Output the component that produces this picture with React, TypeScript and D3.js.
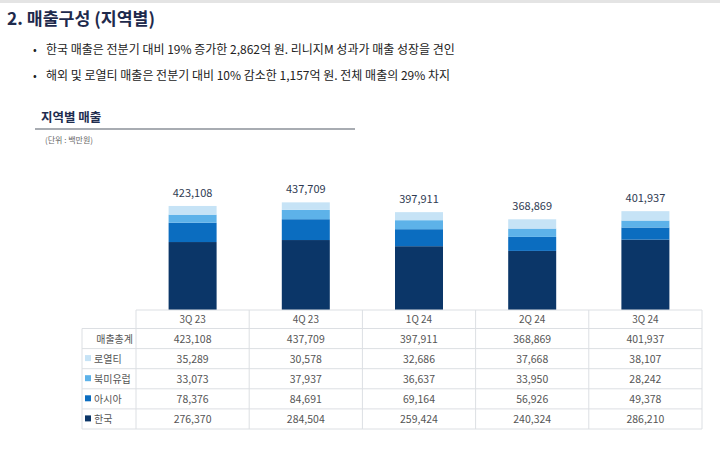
import React from "react";
import * as d3 from "d3";

const quarters = ["3Q 23", "4Q 23", "1Q 24", "2Q 24", "3Q 24"];
const totals = [423108, 437709, 397911, 368869, 401937];
const royalty = [35289, 30578, 32686, 37668, 38107];
const naEu = [33073, 37937, 36637, 33950, 28242];
const asia = [78376, 84691, 69164, 56926, 49378];
const korea = [276370, 284504, 259424, 240324, 286210];

const seriesKeys = ["korea", "asia", "naEu", "royalty"];
const seriesColors: Record<string, string> = { korea: "#0b3668", asia: "#0b6dc0", naEu: "#5db2e9", royalty: "#c6e3f6" };
const seriesValues: Record<string, number[]> = { korea, asia, naEu, royalty };

const titleText = "2. 매출구성 (지역별)";
const bullets = [
  "한국 매출은 전분기 대비 19% 증가한 2,862억 원. 리니지M 성과가 매출 성장을 견인",
  "해외 및 로열티 매출은 전분기 대비 10% 감소한 1,157억 원. 전체 매출의 29% 차지",
];

const FONT = "'Noto Sans CJK KR', 'Noto Sans', sans-serif";
const fmt = d3.format(",");

export default function App() {
  const W = 720, H = 450;
  const tableLeft = 136, tableRight = 702, labelLeft = 82;
  const baseY = 310;
  const x = d3.scaleBand<string>().domain(quarters).range([tableLeft, tableRight]).padding(0);
  const y = d3.scaleLinear().domain([0, 440000]).range([baseY, baseY - 108.2]);
  const barW = 48;

  const rows = quarters.map((q, i) => {
    const o: any = { q };
    seriesKeys.forEach((k) => (o[k] = seriesValues[k][i]));
    return o;
  });
  const stacked = d3.stack<any>().keys(seriesKeys)(rows);

  const headerTop = 310, headerBottom = 328.5;
  const rowH = 20.1;
  const tableRows = [
    { label: "매출총계", key: null as string | null, vals: totals },
    { label: "로열티", key: "royalty", vals: royalty },
    { label: "북미유럽", key: "naEu", vals: naEu },
    { label: "아시아", key: "asia", vals: asia },
    { label: "한국", key: "korea", vals: korea },
  ];
  const tableBottom = headerBottom + rowH * tableRows.length;
  const grid = "#dcdfe3";

  return (
    <svg width={W} height={H} style={{ display: "block", position: "absolute", left: 0, top: 0, background: "#fff" }} fontFamily={FONT}>
      <rect x={0} y={0} width={W} height={H} fill="#fff" />
      <rect x={0} y={0} width={W} height={3} fill="#e4e4e4" />
      <text x={7} y={25} fontSize={17.3} fontWeight={700} fill="#1e2a4c">{titleText}</text>
      {bullets.map((b, i) => (
        <g key={i}>
          <text x={33} y={54 + i * 26} fontSize={11} fill="#222">•</text>
          <text x={46} y={54 + i * 26} fontSize={12} fill="#222">{b}</text>
        </g>
      ))}
      <text x={41} y={122} fontSize={12.5} fontWeight={700} fill="#1f2d4f">지역별 매출</text>
      <line x1={35} x2={355} y1={129} y2={129} stroke="#8b9199" strokeWidth={1.5} />
      <text x={45} y={143} fontSize={8} fill="#666">(단위 : 백만원)</text>

      {stacked.map((s) => (
        <g key={s.key}>
          {s.map((d, i) => {
            const cx = (x(quarters[i]) as number) + x.bandwidth() / 2;
            return (
              <rect key={i} x={cx - barW / 2} y={y(d[1])} width={barW} height={y(d[0]) - y(d[1])} fill={seriesColors[s.key as string]} />
            );
          })}
        </g>
      ))}
      {quarters.map((q, i) => {
        const cx = (x(q) as number) + x.bandwidth() / 2;
        return (
          <text key={q} x={cx} y={y(totals[i]) - 9} textAnchor="middle" fontSize={11} fill="#2f3b52">{fmt(totals[i])}</text>
        );
      })}

      {/* table */}
      <g>
        <line x1={tableLeft} x2={tableRight} y1={headerTop} y2={headerTop} stroke={grid} />
        {tableRows.map((r, j) => (
          <line key={j} x1={labelLeft} x2={tableRight} y1={headerBottom + rowH * j} y2={headerBottom + rowH * j} stroke={grid} />
        ))}
        <line x1={labelLeft} x2={tableRight} y1={tableBottom} y2={tableBottom} stroke={grid} />
        <line x1={labelLeft} x2={labelLeft} y1={headerBottom} y2={tableBottom} stroke={grid} />
        {quarters.map((q) => (
          <line key={q} x1={x(q) as number} x2={x(q) as number} y1={headerTop} y2={tableBottom} stroke={grid} />
        ))}
        <line x1={tableRight} x2={tableRight} y1={headerTop} y2={tableBottom} stroke={grid} />
        {quarters.map((q) => (
          <text key={q} x={(x(q) as number) + x.bandwidth() / 2} y={headerTop + 13} textAnchor="middle" fontSize={10} fill="#555">{q}</text>
        ))}
        {tableRows.map((r, j) => {
          const ry = headerBottom + rowH * j + 14;
          return (
            <g key={r.label}>
              {r.key ? (
                <>
                  <rect x={85} y={ry - 7.5} width={6} height={6} fill={seriesColors[r.key]} />
                  <text x={94} y={ry} fontSize={10} fill="#555">{r.label}</text>
                </>
              ) : (
                <text x={133} y={ry} textAnchor="end" fontSize={10} fill="#555">{r.label}</text>
              )}
              {r.vals.map((v, i) => (
                <text key={i} x={(x(quarters[i]) as number) + x.bandwidth() / 2} y={ry} textAnchor="middle" fontSize={10.5} fill="#555">{fmt(v)}</text>
              ))}
            </g>
          );
        })}
      </g>
    </svg>
  );
}
